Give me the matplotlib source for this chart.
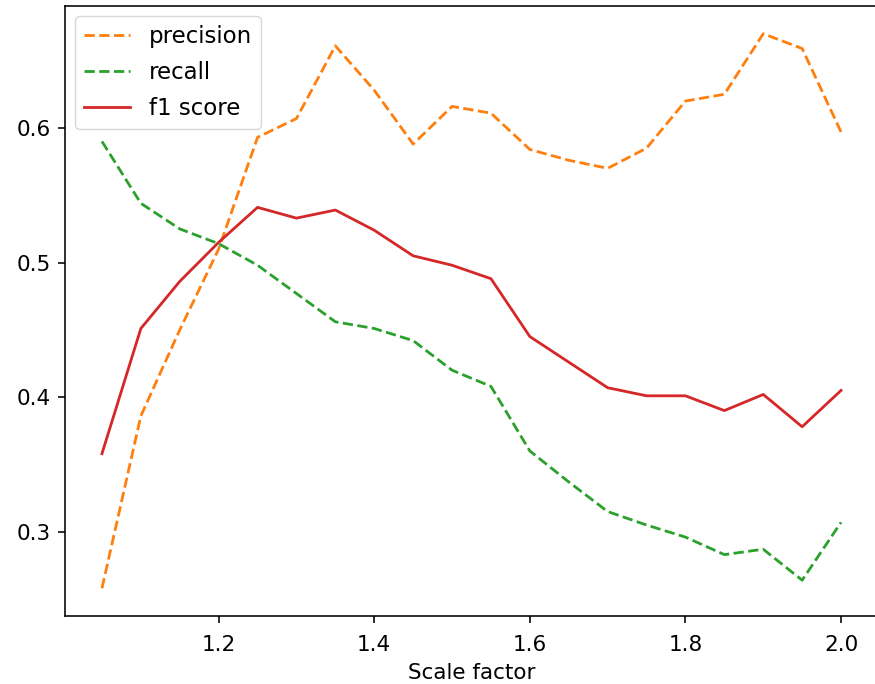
import matplotlib
matplotlib.use("Agg")
import matplotlib.pyplot as plt
import numpy as np

scale = [1.05, 1.10, 1.15, 1.20, 1.25, 1.30, 1.35, 1.40, 1.45, 1.50,
         1.55, 1.60, 1.65, 1.70, 1.75, 1.80, 1.85, 1.90, 1.95, 2.00]
precision = [0.258, 0.386, 0.450, 0.510, 0.593, 0.607, 0.661, 0.628, 0.588, 0.616,
             0.611, 0.584, 0.576, 0.570, 0.585, 0.620, 0.625, 0.670, 0.659, 0.597]
recall = [0.590, 0.544, 0.525, 0.514, 0.498, 0.477, 0.456, 0.451, 0.442, 0.420,
          0.408, 0.360, 0.337, 0.315, 0.305, 0.296, 0.283, 0.287, 0.264, 0.307]
f1 = [0.358, 0.451, 0.486, 0.515, 0.541, 0.533, 0.539, 0.524, 0.505, 0.498,
      0.488, 0.445, 0.426, 0.407, 0.401, 0.401, 0.390, 0.402, 0.378, 0.405]

# the reference looks like a default plot saved at a higher dpi, so scale everything up
s = 1.43
plt.rcParams.update({
    'font.size': 15.5,
    'lines.linewidth': 1.4 * s,
    'axes.linewidth': 0.8 * s,
    'xtick.major.size': 3.5 * s,
    'ytick.major.size': 3.5 * s,
    'xtick.major.width': 0.8 * s,
    'ytick.major.width': 0.8 * s,
    'xtick.major.pad': 8.5,
    'ytick.major.pad': 3.5 * s,
})

fig = plt.figure(figsize=(8.75, 6.84), dpi=100)
ax = fig.add_axes([65/875, 68/684, 813/875, 610/684])

# same colours as the default cycle, just skipping blue
ax.plot(scale, precision, '--', color='tab:orange', label='precision')
ax.plot(scale, recall, '--', color='tab:green', label='recall')
ax.plot(scale, f1, '-', color='tab:red', label='f1 score')

ax.set_xticks([1.2, 1.4, 1.6, 1.8, 2.0])
ax.set_yticks([0.3, 0.4, 0.5, 0.6])
ax.set_xlabel('Scale factor', labelpad=6)
ax.legend(loc='upper left', fontsize=16.5, labelspacing=0.55, borderaxespad=0.45)

fig.savefig('out.png', dpi=100)
